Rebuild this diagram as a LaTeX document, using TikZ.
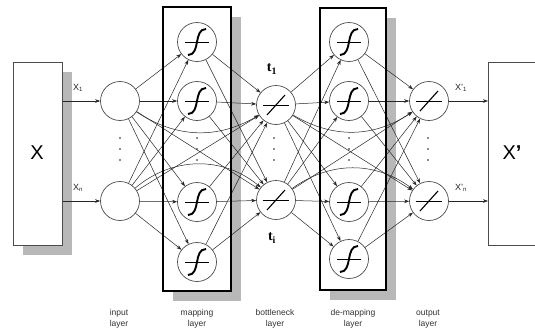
\documentclass[tikz,border=0pt]{standalone}
\usepackage{fontspec}
\setmainfont{Liberation Sans}
\newfontfamily\tfont{Liberation Serif}
\usetikzlibrary{arrows.meta}
\tikzset{
  sig/.pic={\draw[line width=0.6pt] (-12,0)--(12,0);
            \draw[line width=1.9pt] (-9,13) .. controls (4,13) and (-4,-13) .. (9,-13);},
  lin/.pic={\draw[line width=0.6pt] (-13,0)--(13,0);
            \draw[line width=1.1pt] (-9,10)--(9,-10);}
}
\begin{document}
\begin{tikzpicture}[x=1pt,y=-1pt,
  neuron/.style={circle,draw=black!70,line width=0.7pt,fill=white,minimum size=39pt,inner sep=0pt},
  conn/.style={draw=black!85,line width=0.5pt,-{Stealth[length=5pt,width=3.6pt]}},
  shadowbox/.style={fill=black!28,draw=none},
  layerbox/.style={draw=black,line width=1.4pt},
  databox/.style={draw=black!70,line width=0.8pt,fill=white},
  lbl/.style={font=\fontsize{8.5}{11}\selectfont,align=center,text=black!80},
  sublbl/.style={font=\fontsize{9}{10}\selectfont,text=black!85},
  tlbl/.style={font=\tfont\bfseries\fontsize{14}{15}\selectfont},
  dotm/.style={fill=black!45,minimum size=2.6pt,inner sep=0pt,rectangle}
]
\useasboundingbox (0,0) rectangle (535,333);
% shadows and boxes
\fill[shadowbox] (23,72) rectangle (72,255);
\node[databox,minimum width=49pt,minimum height=183pt,anchor=north west,inner sep=0pt] (X) at (13,62) {};
\node[font=\fontsize{20}{22}\selectfont] (Xt) at (37,153) {X};
\node[databox,minimum width=49pt,minimum height=183pt,anchor=north west,inner sep=0pt] (Xp) at (488,62) {};
\node[font=\fontsize{20}{22}\selectfont] (Xpt) at (512,153) {X\textbf{'}};
\fill[shadowbox] (173,17) rectangle (241,301);
\fill[white] (163,7) rectangle (231,291);
\fill[shadowbox] (330,18) rectangle (396,300);
\fill[white] (320,8) rectangle (386,290);
% neurons
\node[neuron] (in1) at (120,101) {};
\node[neuron] (in2) at (120,201) {};
\node[neuron] (m1) at (197,42) {};
\node[neuron] (m2) at (197,101) {};
\node[neuron] (m3) at (197,202) {};
\node[neuron] (m4) at (197,262) {};
\node[neuron] (t1) at (276,105) {};
\node[neuron] (ti) at (276,200) {};
\node[neuron] (d1) at (349,42) {};
\node[neuron] (d2) at (349,101) {};
\node[neuron] (d3) at (349,202) {};
\node[neuron] (d4) at (349,259) {};
\node[neuron] (o1) at (429,101) {};
\node[neuron] (o2) at (429,201) {};
\foreach \n in {m1,m2,m3,m4,d1,d2,d3,d4} \pic at (\n) {sig};
\foreach \n in {t1,ti,o1,o2} \pic at (\n) {lin};
% dots
\foreach \y in {138,149,160} {
  \node[dotm] at (120,\y) {};
  \node[dotm] at (197,\y) {};
  \node[dotm] at (274,\y) {};
  \node[dotm] at (349,\y) {};
  \node[dotm] at (428,\y) {};
}
% connections
\draw[conn] (X.east |- in1) -- (in1);
\draw[conn] (X.east |- in2) -- (in2);
\draw[conn] (o1) -- (Xp.west |- o1);
\draw[conn] (o2) -- (Xp.west |- o2);
\foreach \a in {in1,in2} \foreach \b in {m1,m2,m3,m4} \draw[conn] (\a) -- (\b);
\foreach \a in {m1,m2,m3,m4} \foreach \b in {t1,ti} \draw[conn] (\a) -- (\b);
\foreach \a in {t1,ti} \foreach \b in {d1,d2,d3,d4} \draw[conn] (\a) -- (\b);
\foreach \a in {d1,d2,d3,d4} \foreach \b in {o1,o2} \draw[conn] (\a) -- (\b);
% skip connections
\draw[conn] (in1) -- (ti);
\draw[conn] (in2) -- (t1);
\draw[conn] (in1) to[bend right=32] (t1);
\draw[conn] (in2) to[bend left=40] (ti);
\draw[conn] (t1) -- (o2);
\draw[conn] (ti) -- (o1);
\draw[conn] (t1) to[bend right=32] (o1);
\draw[conn] (ti) to[bend left=36] (o2);
% layer box borders
\draw[layerbox] (163,7) rectangle (231,291);
\draw[layerbox] (320,8) rectangle (386,290);
% labels
\node[sublbl] (lx1) at (78,88) {X\textsubscript{1}};
\node[sublbl] (lxn) at (78,188) {X\textsubscript{n}};
\node[sublbl] (lo1) at (461,88) {X'\textsubscript{1}};
\node[sublbl] (lon) at (461,188) {X'\textsubscript{n}};
\node[tlbl] (lt1) at (272,69) {t\textsubscript{1}};
\node[tlbl] (lti) at (272,238) {t\textsubscript{i}};
\node[lbl] (L1) at (119,319) {input\\layer};
\node[lbl] (L2) at (197,319) {mapping\\layer};
\node[lbl] (L3) at (275,319) {bottleneck\\layer};
\node[lbl] (L4) at (353,319) {de-mapping\\layer};
\node[lbl] (L5) at (428,319) {output\\layer};
\end{tikzpicture}
\end{document}
